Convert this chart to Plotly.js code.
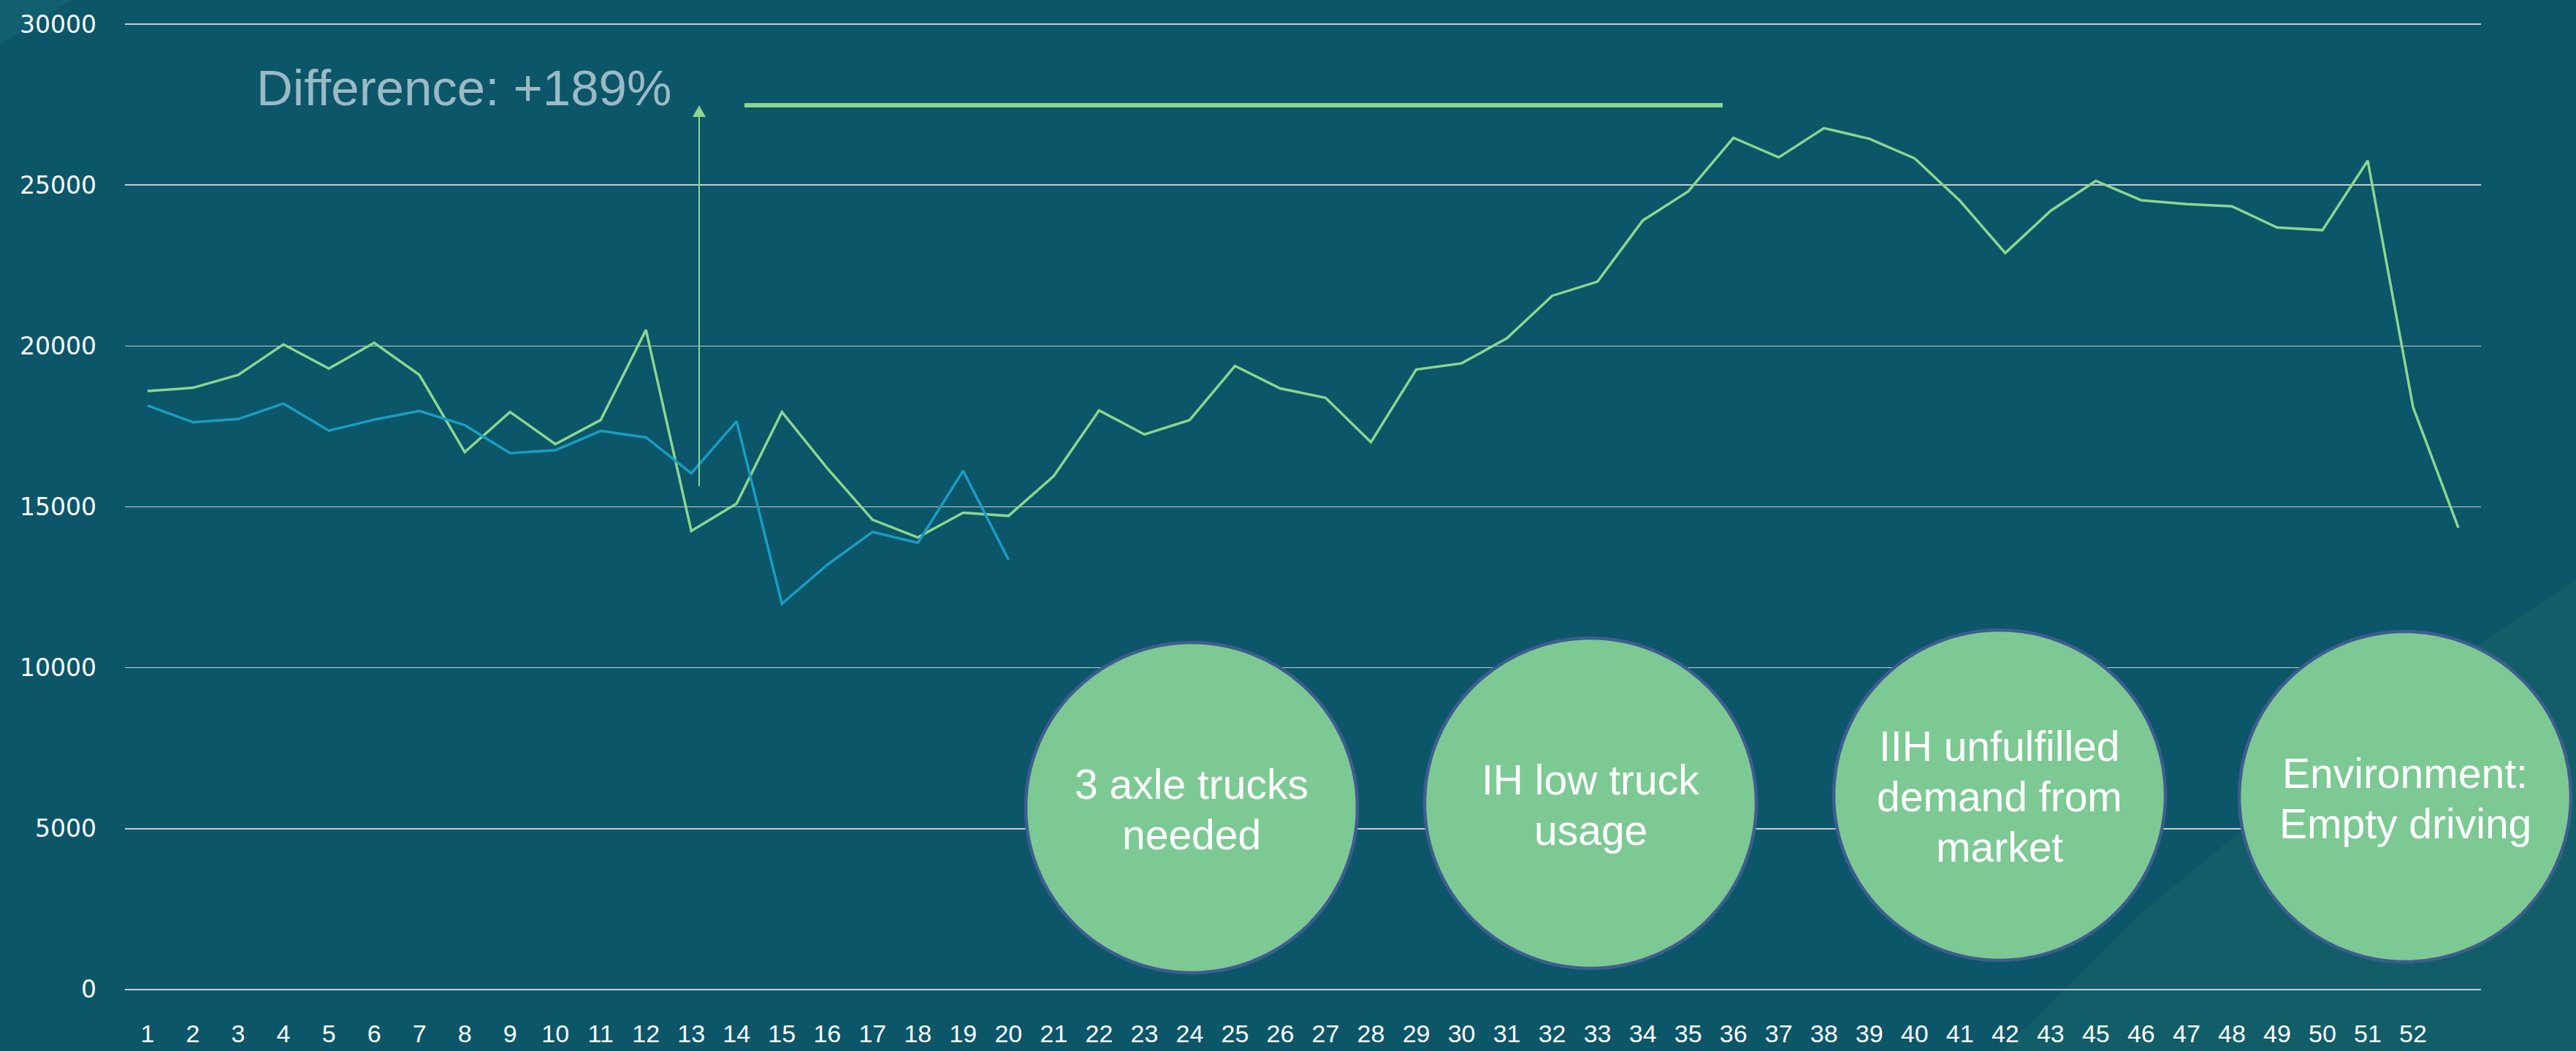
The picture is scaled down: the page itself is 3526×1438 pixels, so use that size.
<!DOCTYPE html>
<html>
<head>
<meta charset="utf-8">
<script src="https://cdn.plot.ly/plotly-3.0.1.min.js"></script>
<style>
  html, body { margin: 0; padding: 0; background: #0C566A; }
  #chart { width: 3526px; height: 1438px; }
</style>
</head>
<body>
<div id="chart"></div>
<script>
// ---- data ----
const weekLabels = ['1','2','3','4','5','6','7','8','9','10','11','12','13','14','15','16','17','18','19','20',
  '21','22','23','24','25','26','27','28','29','30','31','32','33','34','35','36','37','38','39','40',
  '41','42','43','45','46','47','48','49','50','51','52'];

const seriesGreen = [18600, 18700, 19100, 20050, 19300, 20100, 19100, 16700, 17950, 16950,
  17700, 20500, 14250, 15100, 17950, 16200, 14600, 14050, 14820, 14720,
  15960, 18000, 17250, 17700, 19380, 18680, 18390, 17010, 19270, 19460,
  20240, 21560, 22000, 23900, 24800, 26470, 25860, 26770, 26440, 25830,
  24510, 22890, 24200, 25130, 24530, 24410, 24340, 23680, 23600, 25760,
  18100, 14350];

const seriesBlue = [18150, 17630, 17730, 18210, 17370, 17710, 17980, 17540, 16670, 16760,
  17360, 17160, 16040, 17660, 11990, 13200, 14220, 13880, 16120, 13360];

const yTicks = [0, 5000, 10000, 15000, 20000, 25000, 30000];

const calloutText = 'Difference: +189%';
const bubbleTexts = [
  ['3 axle trucks', 'needed'],
  ['IH low truck', 'usage'],
  ['IIH unfulfilled', 'demand from', 'market'],
  ['Environment:', 'Empty driving']
];

// ---- layout geometry ----
const W = 3526, H = 1438;
const M = {l: 171, r: 130, t: 32, b: 83};
const PW = W - M.l - M.r, PH = H - M.t - M.b;
const px = x => (x - M.l) / PW;
const py = y => (H - M.b - y) / PH;

const GREEN = '#8CD68F';
const BLUE = '#1A9DC3';
const FONT = 'Liberation Sans, Arial, sans-serif';

const idxGreen = seriesGreen.map((_, i) => i + 1);
const idxBlue = seriesBlue.map((_, i) => i + 1);

const traces = [
  {x: idxGreen, y: seriesGreen, type: 'scatter', mode: 'lines',
   line: {color: GREEN, width: 3.5}, hoverinfo: 'skip', showlegend: false},
  {x: idxBlue, y: seriesBlue, type: 'scatter', mode: 'lines',
   line: {color: BLUE, width: 3.5}, hoverinfo: 'skip', showlegend: false}
];

const bubbles = [
  {cx: 1631, cy: 1105},
  {cx: 2177, cy: 1099},
  {cx: 2737, cy: 1088},
  {cx: 3292, cy: 1090}
];

const shapes = [
  // slide background accents
  {type: 'path', xref: 'paper', yref: 'paper', layer: 'below',
   path: `M ${px(0)},${py(0)} L ${px(99)},${py(0)} L ${px(0)},${py(61)} Z`,
   fillcolor: '#115F70', line: {width: 0}},
  {type: 'path', xref: 'paper', yref: 'paper', layer: 'below',
   path: `M ${px(2740)},${py(1438)} L ${px(2930)},${py(1250)} L ${px(3066)},${py(1138)} L ${px(3391)},${py(883)} L ${px(3526)},${py(792)} L ${px(3526)},${py(1438)} Z`,
   fillcolor: '#115E69', line: {width: 0}},
  // arrow stem
  {type: 'line', xref: 'paper', yref: 'paper', layer: 'above',
   x0: px(957), x1: px(957), y0: py(665), y1: py(156),
   line: {color: GREEN, width: 2}},
  // arrow head
  {type: 'path', xref: 'paper', yref: 'paper', layer: 'above',
   path: `M ${px(957)},${py(144)} L ${px(948)},${py(160)} L ${px(966)},${py(160)} Z`,
   fillcolor: GREEN, line: {width: 0}},
  // thick horizontal bar
  {type: 'line', xref: 'paper', yref: 'paper', layer: 'above',
   x0: px(1019), x1: px(2358), y0: py(144), y1: py(144),
   line: {color: GREEN, width: 6}}
];

bubbles.forEach(b => {
  shapes.push({type: 'circle', xref: 'paper', yref: 'paper', layer: 'above',
    x0: px(b.cx - 227), x1: px(b.cx + 227), y0: py(b.cy + 226), y1: py(b.cy - 226),
    fillcolor: '#7DC993', line: {color: '#3E5D8F', width: 4.5}});
});

const annotations = [
  {xref: 'paper', yref: 'paper', x: px(635), y: py(120), xanchor: 'center', yanchor: 'middle',
   text: calloutText, showarrow: false,
   font: {family: FONT, size: 69, color: '#9BBAC3'}}
];

const FS = 57, LS = 69;
bubbleTexts.forEach((lines, k) => {
  const b = bubbles[k];
  const n = lines.length;
  lines.forEach((t, j) => {
    const baseline = b.cy + 22 + (j - (n - 1) / 2) * LS;
    annotations.push({xref: 'paper', yref: 'paper', x: px(b.cx), y: py(baseline - 20),
      xanchor: 'center', yanchor: 'middle', text: t, showarrow: false,
      font: {family: FONT, size: FS, color: '#FFFFFF'}});
  });
});

const layout = {
  width: W, height: H,
  margin: {l: M.l, r: M.r, t: M.t, b: M.b, pad: 0},
  paper_bgcolor: '#0C566A',
  plot_bgcolor: 'rgba(0,0,0,0)',
  showlegend: false,
  font: {family: FONT, color: '#FFFFFF'},
  xaxis: {
    type: 'linear', range: [0.5, seriesGreen.length + 0.5],
    tickmode: 'array', tickvals: weekLabels.map((_, i) => i + 1), ticktext: weekLabels,
    showgrid: false, zeroline: false, showline: false, ticks: '',
    ticklabelstandoff: 36,
    tickfont: {family: FONT, size: 34, color: '#FFFFFF'}, fixedrange: true
  },
  yaxis: {
    range: [-25, 30025], tickmode: 'array', tickvals: yTicks, ticktext: yTicks.map(String),
    showgrid: true, gridcolor: '#C3CCCF', gridwidth: 1.5,
    zeroline: false, showline: false, ticks: '',
    ticklabelstandoff: 38,
    tickfont: {family: 'DejaVu Sans, sans-serif', size: 33, color: '#FFFFFF'}, fixedrange: true
  },
  shapes: shapes,
  annotations: annotations
};

Plotly.newPlot('chart', traces, layout, {displayModeBar: false, staticPlot: true});
</script>
</body>
</html>
